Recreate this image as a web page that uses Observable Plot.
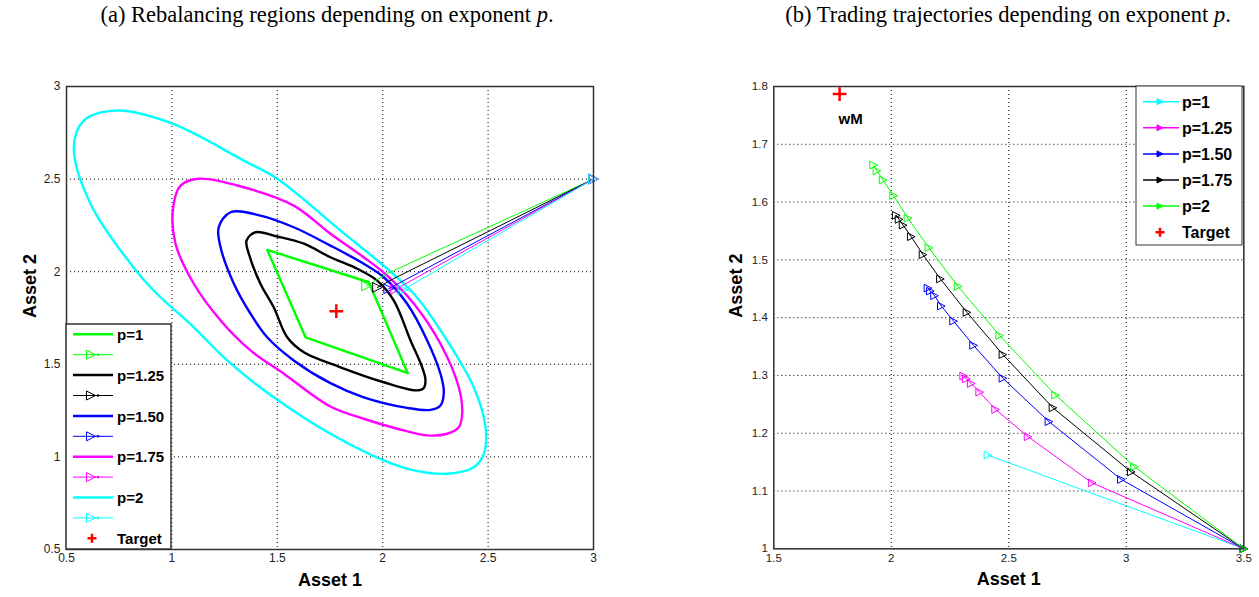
<!DOCTYPE html>
<html><head><meta charset="utf-8">
<script src="https://cdn.jsdelivr.net/npm/d3@7"></script>
<script src="https://cdn.jsdelivr.net/npm/@observablehq/plot@0.6"></script>
<style>
body{margin:0;background:#fff;}
#root{position:relative;width:1259px;height:597px;overflow:hidden;font-family:"Liberation Sans",Arial,sans-serif;}
.title{position:absolute;top:4px;font-family:"Liberation Serif","Times New Roman",serif;font-size:22.5px;line-height:1;color:#000;white-space:nowrap;transform:translateX(-50%);}
.panel{position:absolute;top:0;}
</style></head><body><div id="root"></div>
<script>
// ---------- text ----------
const titleA = "(a) Rebalancing regions depending on exponent ";
const titleB = "(b) Trading trajectories depending on exponent ";
const xLabel = "Asset 1";
const yLabel = "Asset 2";
const targetLabel = "Target";
const wmLabel = "wM";

// ---------- ticks ----------
const ticksA = [0.5, 1, 1.5, 2, 2.5, 3];
const ticksBx = [1.5, 2, 2.5, 3, 3.5];
const ticksBy = [1, 1.1, 1.2, 1.3, 1.4, 1.5, 1.6, 1.7, 1.8];

// ---------- series labels / colours ----------
const labelsP = ["p=1", "p=1.25", "p=1.50", "p=1.75", "p=2"];
const colorsA = ["#00ff00", "#000000", "#0000ff", "#ff00ff", "#00ffff"]; // panel (a)
const colorsB = ["#00ffff", "#ff00ff", "#0000ff", "#000000", "#00ff00"]; // panel (b)

// ---------- panel (a): rebalancing regions ----------
const regionP1 = [[1.452,2.118],[1.934,1.943],[2.119,1.452],[1.634,1.646]];
const regionP125 = [[1.354,2.168],[1.397,2.213],[1.500,2.190],[1.626,2.151],[1.752,2.078],[1.879,2.016],[1.974,1.952],[2.053,1.844],[2.132,1.628],[2.187,1.484],[2.203,1.413],[2.192,1.368],[2.156,1.359],[2.005,1.403],[1.800,1.484],[1.626,1.565],[1.547,1.646],[1.483,1.808],[1.420,1.935],[1.365,2.097]];
const regionP150 = [[1.222,2.240],[1.278,2.321],[1.420,2.303],[1.578,2.240],[1.752,2.141],[1.910,2.043],[2.005,1.970],[2.116,1.827],[2.211,1.629],[2.274,1.449],[2.290,1.349],[2.274,1.278],[2.227,1.254],[2.116,1.265],[1.910,1.322],[1.752,1.398],[1.578,1.521],[1.452,1.646],[1.373,1.773],[1.294,1.935],[1.231,2.132]];
const regionP175 = [[1.006,2.348],[1.041,2.465],[1.128,2.502],[1.341,2.456],[1.578,2.357],[1.752,2.205],[1.910,2.078],[2.021,1.979],[2.148,1.827],[2.274,1.611],[2.361,1.376],[2.377,1.233],[2.361,1.160],[2.306,1.125],[2.211,1.116],[2.069,1.152],[1.910,1.206],[1.752,1.272],[1.531,1.449],[1.373,1.575],[1.231,1.737],[1.104,1.935],[1.017,2.151]];
const regionP2 = [[0.535,2.672],[0.582,2.816],[0.737,2.870],[0.997,2.802],[1.341,2.600],[1.500,2.502],[1.800,2.222],[2.021,2.016],[2.148,1.881],[2.306,1.628],[2.432,1.376],[2.488,1.160],[2.480,1.017],[2.432,0.944],[2.306,0.909],[2.148,0.927],[2.005,0.981],[1.752,1.125],[1.483,1.322],[1.262,1.521],[1.104,1.700],[0.946,1.862],[0.837,1.996],[0.614,2.367]];

const tradeA_P1 = [[3,2.5],[2.021,1.990],[1.923,1.923]];
const tradeA_P125 = [[3,2.5],[2.051,1.962],[1.975,1.915]];
const tradeA_P150 = [[3,2.5],[2.028,1.908]];
const tradeA_P175 = [[3,2.5],[2.061,1.905]];
const tradeA_P2 = [[3,2.5],[2.096,1.902]];

// ---------- panel (b): trading trajectories ----------
const tradeB_P1 = [[3.5,1.0],[2.411,1.162]];
const tradeB_P125 = [[3.5,1.0],[2.855,1.114],[2.582,1.194],[2.444,1.241],[2.376,1.271],[2.340,1.286],[2.319,1.294],[2.308,1.299]];
const tradeB_P150 = [[3.5,1.0],[2.979,1.120],[2.671,1.220],[2.475,1.295],[2.350,1.352],[2.265,1.394],[2.213,1.420],[2.184,1.438],[2.166,1.446],[2.156,1.451]];
const tradeB_P175 = [[3.5,1.0],[3.021,1.133],[2.688,1.244],[2.475,1.336],[2.322,1.409],[2.209,1.467],[2.135,1.509],[2.085,1.540],[2.050,1.560],[2.033,1.570],[2.021,1.577]];
const tradeB_P2 = [[3.5,1.0],[3.035,1.142],[2.699,1.266],[2.461,1.369],[2.284,1.454],[2.160,1.521],[2.071,1.572],[2.010,1.611],[1.965,1.638],[1.939,1.654],[1.925,1.664]];

const target = [[1.78, 1.787]];

// ---------- helpers ----------
const triRight = {draw(ctx, size) { const h = Math.sqrt(size) * 0.6; ctx.moveTo(h, 0); ctx.lineTo(-h, -h); ctx.lineTo(-h, h); ctx.closePath(); }};
function triPath(cx, cy, h) { return `M${cx+h},${cy}L${cx-h},${cy-h}L${cx-h},${cy+h}Z`; }
const sans = "Liberation Sans, Arial, Helvetica, sans-serif";

const root = document.getElementById("root");

// ---------- panel (a) ----------
const regionsA = [regionP1, regionP125, regionP150, regionP175, regionP2];
const tradesA = [tradeA_P1, tradeA_P125, tradeA_P150, tradeA_P175, tradeA_P2];

const plotA = Plot.plot({
  width: 630, height: 597,
  marginLeft: 66, marginRight: 37, marginTop: 86, marginBottom: 48,
  x: {domain: [0.5, 3], label: null},
  y: {domain: [0.5, 3], label: null},
  style: {fontFamily: sans, background: "transparent", color: "#222"},
  marks: [
    Plot.gridX(ticksA, {stroke: "#000", strokeOpacity: 1, strokeDasharray: "1,3"}),
    Plot.gridY(ticksA, {stroke: "#000", strokeOpacity: 1, strokeDasharray: "1,3"}),
    Plot.axisX(ticksA, {tickSize: 0, tickPadding: 4, fontSize: 12, tickFormat: d => String(d), label: null}),
    Plot.axisY(ticksA, {tickSize: 0, tickPadding: 6, fontSize: 12, tickFormat: d => String(d), label: null}),
    ...regionsA.map((r, i) => Plot.line(r, {curve: i === 0 ? "linear-closed" : "catmull-rom-closed", stroke: colorsA[i], strokeWidth: 2.4})),
    ...tradesA.map((t, i) => Plot.line(t, {stroke: colorsA[i], strokeWidth: 1})),
    ...tradesA.map((t, i) => Plot.dot([t[0], t[t.length - 1]], {symbol: triRight, r: 4.5, stroke: colorsA[i], fill: "none", strokeWidth: 1})),
    Plot.dot(target, {symbol: "plus", r: 4.5, stroke: "#ff0000", strokeWidth: 2.5}),
    Plot.frame({stroke: "#333", strokeWidth: 1.5}),
    Plot.text([xLabel], {frameAnchor: "bottom", dy: 36, text: d => d, fontSize: 18, fontWeight: "bold", fill: "#000"}),
    Plot.text([yLabel], {frameAnchor: "left", dx: -36, rotate: -90, text: d => d, fontSize: 18, fontWeight: "bold", fill: "#000"})
  ]
});
plotA.classList.add("panel");
plotA.style.left = "0px";
root.appendChild(plotA);

// ---------- panel (b) ----------
const tradesB = [tradeB_P1, tradeB_P125, tradeB_P150, tradeB_P175, tradeB_P2];
const plotB = Plot.plot({
  width: 629, height: 597,
  marginLeft: 143.3, marginRight: 15.7, marginTop: 86, marginBottom: 48.7,
  x: {domain: [1.5, 3.5], label: null},
  y: {domain: [1, 1.8], label: null},
  style: {fontFamily: sans, background: "transparent", color: "#222"},
  marks: [
    Plot.gridX(ticksBx, {stroke: "#000", strokeOpacity: 1, strokeDasharray: "1,3"}),
    Plot.gridY(ticksBy, {stroke: "#000", strokeOpacity: 1, strokeDasharray: "1,3"}),
    Plot.axisX(ticksBx, {tickSize: 0, tickPadding: 5, fontSize: 11.5, tickFormat: d => String(d), label: null}),
    Plot.axisY(ticksBy, {tickSize: 0, tickPadding: 6, fontSize: 11.5, tickFormat: d => String(d), label: null}),
    ...tradesB.map((t, i) => Plot.line(t, {stroke: colorsB[i], strokeWidth: 1})),
    ...tradesB.map((t, i) => Plot.dot(t, {symbol: triRight, r: 3.6, stroke: colorsB[i], fill: "none", strokeWidth: 1})),
    Plot.dot(target, {symbol: "plus", r: 4.5, stroke: "#ff0000", strokeWidth: 2.5}),
    Plot.text(target, {text: () => wmLabel, dx: 11, dy: 25, fontSize: 15, fontWeight: "bold", fill: "#000"}),
    Plot.frame({stroke: "#333", strokeWidth: 1.5}),
    Plot.text([xLabel], {frameAnchor: "bottom", dy: 36, text: d => d, fontSize: 18, fontWeight: "bold", fill: "#000"}),
    Plot.text([yLabel], {frameAnchor: "left", dx: -38, rotate: -90, text: d => d, fontSize: 18, fontWeight: "bold", fill: "#000"})
  ]
});
plotB.classList.add("panel");
plotB.style.left = "630px";
root.appendChild(plotB);

// ---------- titles ----------
function addTitle(text, cx) {
  const d = document.createElement("div");
  d.className = "title";
  d.style.left = cx + "px";
  d.innerHTML = text + "<i>p</i>.";
  root.appendChild(d);
}
addTitle(titleA, 327);
addTitle(titleB, 1008);

// ---------- legends ----------
const ov = d3.create("svg").attr("width", 1259).attr("height", 597)
  .style("position", "absolute").style("left", 0).style("top", 0)
  .attr("font-family", sans);

// legend (a)
const la = ov.append("g");
la.append("rect").attr("x", 66).attr("y", 324).attr("width", 105).attr("height", 225)
  .attr("fill", "#fff").attr("stroke", "#333").attr("stroke-width", 1.5);
labelsP.forEach((lab, i) => {
  const y1 = 334.3 + i * 40.8, y2 = y1 + 20.4;
  la.append("line").attr("x1", 73).attr("x2", 113).attr("y1", y1).attr("y2", y1).attr("stroke", colorsA[i]).attr("stroke-width", 2.5);
  la.append("text").attr("x", 117).attr("y", y1).attr("dy", "0.38em").attr("font-size", 15).attr("font-weight", "bold").text(lab);
  la.append("line").attr("x1", 73).attr("x2", 113).attr("y1", y2).attr("y2", y2).attr("stroke", colorsA[i]).attr("stroke-width", 1);
  la.append("path").attr("d", triPath(91, y2, 4.5)).attr("fill", "none").attr("stroke", colorsA[i]);
  la.append("circle").attr("cx", 98).attr("cy", y2).attr("r", 1.3).attr("fill", colorsA[i]);
});
{
  const yt = 334.3 + 10 * 20.4;
  la.append("path").attr("d", `M${92-4.5},${yt}H${92+4.5}M92,${yt-4.5}V${yt+4.5}`).attr("stroke", "#ff0000").attr("stroke-width", 2.5);
  la.append("text").attr("x", 117).attr("y", yt).attr("dy", "0.38em").attr("font-size", 15).attr("font-weight", "bold").text(targetLabel);
}

// legend (b)
const lb = ov.append("g");
lb.append("rect").attr("x", 1136).attr("y", 86).attr("width", 106).attr("height", 159)
  .attr("fill", "#fff").attr("stroke", "#333").attr("stroke-width", 1);
labelsP.forEach((lab, i) => {
  const y = 101.7 + i * 26.1;
  lb.append("line").attr("x1", 1143).attr("x2", 1179).attr("y1", y).attr("y2", y).attr("stroke", colorsB[i]).attr("stroke-width", 1.5);
  lb.append("path").attr("d", triPath(1160, y, 3)).attr("fill", colorsB[i]).attr("stroke", colorsB[i]);
  lb.append("text").attr("x", 1182).attr("y", y).attr("dy", "0.38em").attr("font-size", 16).attr("font-weight", "bold").text(lab);
});
{
  const yt = 101.7 + 5 * 26.1;
  lb.append("path").attr("d", `M${1160-4.5},${yt}H${1160+4.5}M1160,${yt-4.5}V${yt+4.5}`).attr("stroke", "#ff0000").attr("stroke-width", 2.5);
  lb.append("text").attr("x", 1182).attr("y", yt).attr("dy", "0.38em").attr("font-size", 16).attr("font-weight", "bold").text(targetLabel);
}
root.appendChild(ov.node());
</script>
</body></html>
